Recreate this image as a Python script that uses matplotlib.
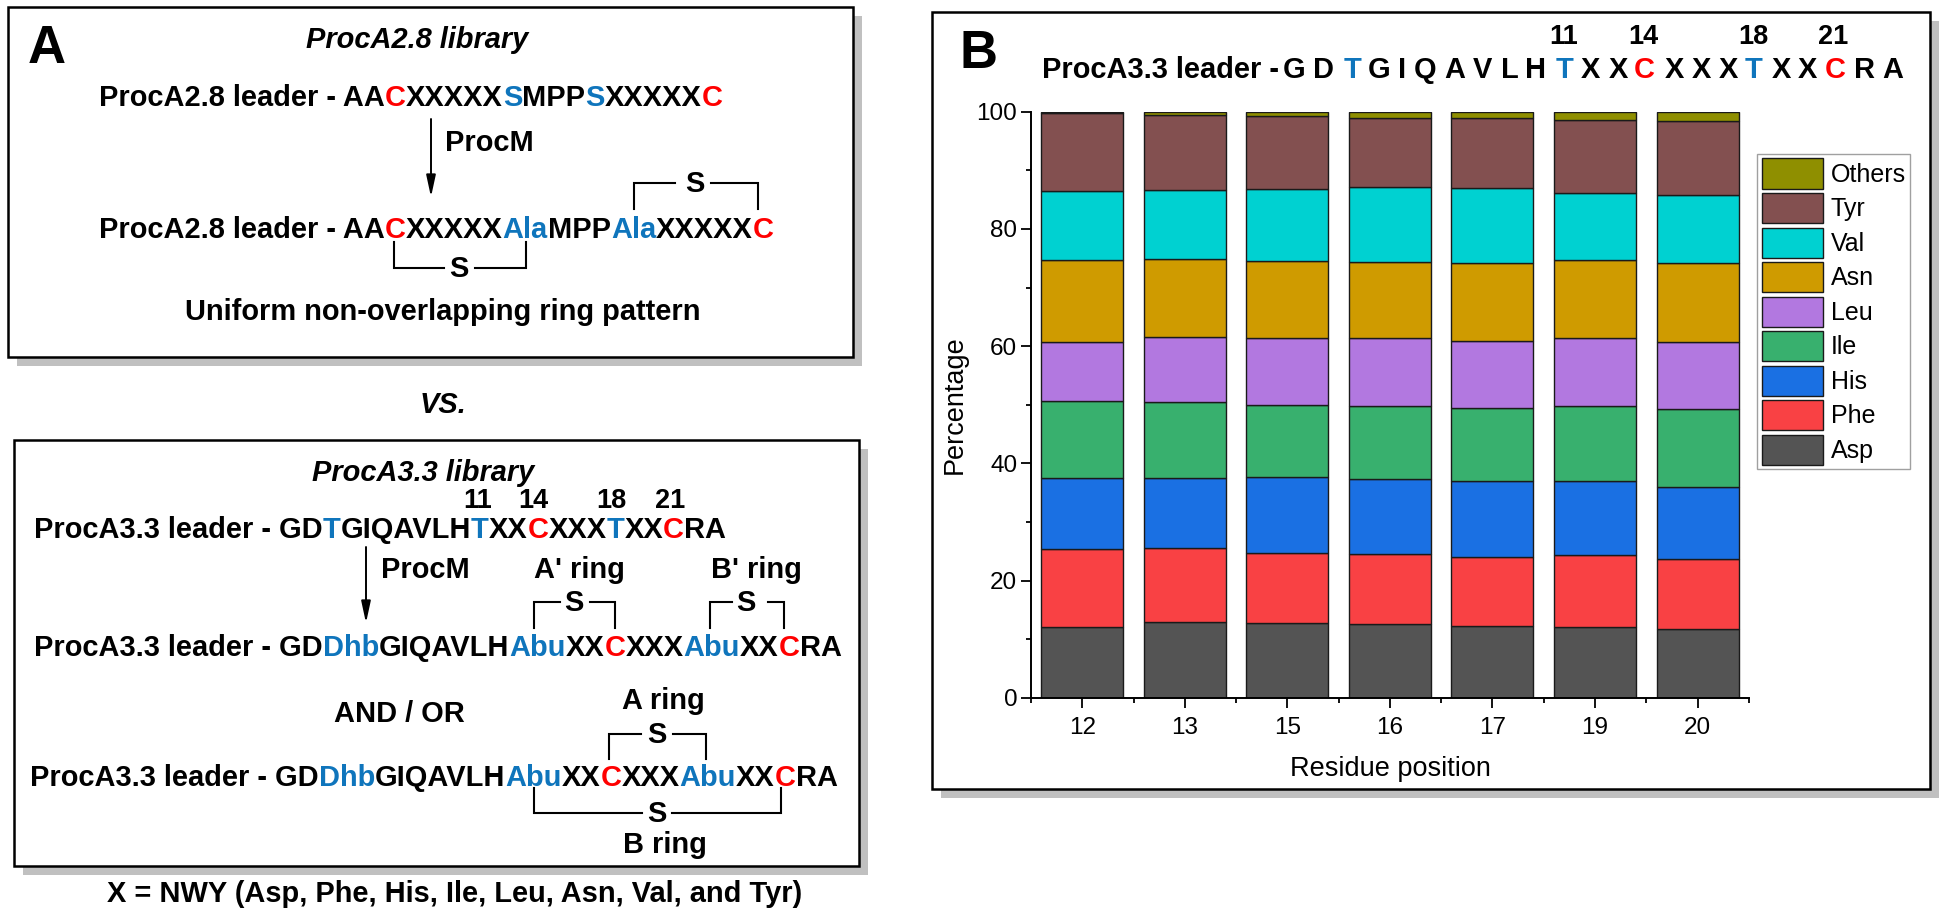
import matplotlib
matplotlib.use("Agg")
import numpy as np
import matplotlib.pyplot as plt
from matplotlib.patches import Rectangle
from matplotlib.ticker import MultipleLocator

plt.rcParams['font.family'] = ['Liberation Sans', 'DejaVu Sans']

# chart data, bottom to top of the stack
positions = ['12', '13', '15', '16', '17', '19', '20']
residues = ['Asp', 'Phe', 'His', 'Ile', 'Leu', 'Asn', 'Val', 'Tyr', 'Others']
asp = [12.1, 12.9, 12.8, 12.5, 12.3, 12.1, 11.8]
phe = [13.3, 12.6, 11.9, 12.0, 11.7, 12.3, 11.9]
his = [12.1, 12.0, 13.0, 12.8, 12.9, 12.5, 12.3]
ile = [13.2, 12.9, 12.3, 12.4, 12.5, 12.8, 13.3]
leu = [10.0, 11.1, 11.3, 11.6, 11.5, 11.7, 11.4]
asn = [14.0, 13.4, 13.3, 13.1, 13.2, 13.3, 13.4]
val = [11.8, 11.8, 12.2, 12.8, 12.8, 11.5, 11.7]
tyr = [13.3, 12.8, 12.4, 11.8, 12.0, 12.3, 12.6]
others = [0.2, 0.5, 0.8, 1.0, 1.1, 1.5, 1.6]
series = [asp, phe, his, ile, leu, asn, val, tyr, others]
colors = ['#545454', '#F94144', '#1A70E3', '#38B06E', '#B278E0',
          '#CF9B00', '#00D1D1', '#835050', '#8F8F00']

RED = '#FF0000'
BLUE = '#0F75BC'
BLACK = '#000000'
FS = 20.85

# sequence strings, split where the colour changes
a28_top = [('ProcA2.8 leader - AA', BLACK), ('C', RED), ('XXXXX', BLACK), ('S', BLUE),
           ('MPP', BLACK), ('S', BLUE), ('XXXXX', BLACK), ('C', RED)]
a28_bot = [('ProcA2.8 leader - AA', BLACK), ('C', RED), ('XXXXX', BLACK), ('Ala', BLUE),
           ('MPP', BLACK), ('Ala', BLUE), ('XXXXX', BLACK), ('C', RED)]
a33_top = [('ProcA3.3 leader - GD', BLACK), ('T', BLUE), ('GIQAVLH', BLACK), ('T', BLUE),
           ('XX', BLACK), ('C', RED), ('XXX', BLACK), ('T', BLUE), ('XX', BLACK),
           ('C', RED), ('RA', BLACK)]
a33_mid = [('ProcA3.3 leader - GD', BLACK), ('Dhb', BLUE), ('GIQAVLH', BLACK), ('Abu', BLUE),
           ('XX', BLACK), ('C', RED), ('XXX', BLACK), ('Abu', BLUE), ('XX', BLACK),
           ('C', RED), ('RA', BLACK)]
header_letters = list('GDTGIQAVLHTXXCXXXTXXCRA')
header_colors = {'T': BLUE, 'C': RED}
header_x = [1294.5, 1324, 1353, 1379.5, 1402, 1425, 1455, 1482, 1510, 1536, 1565, 1590.6,
            1618, 1644, 1674, 1701, 1728.5, 1754, 1781, 1807.6, 1835, 1864.5, 1892.5]

fig = plt.figure(figsize=(19.45, 9.15), dpi=100, facecolor='white')

# whole-figure layer in pixel coordinates for the schematic
bg = fig.add_axes([0, 0, 1, 1], zorder=0)
bg.set_xlim(0, 1945)
bg.set_ylim(915, 0)
bg.axis('off')
renderer = fig.canvas.get_renderer()


def panel(x0, y0, x1, y1, dx=9, dy=9):
    bg.add_patch(Rectangle((x0 + dx, y0 + dy), x1 - x0, y1 - y0, fc='#C0C0C0', ec='none'))
    bg.add_patch(Rectangle((x0, y0), x1 - x0, y1 - y0, fc='white', ec='black', lw=1.8))


def label(x, y, s, ha='left', size=FS, style='normal', weight='bold', va='baseline', color='black'):
    return bg.text(x, y, s, ha=ha, va=va, fontsize=size, style=style, weight=weight, color=color)


def colored(x, y, parts, size=FS):
    for s, c in parts:
        t = label(x, y, s, size=size, color=c)
        x += t.get_window_extent(renderer).width


def bracket(x0, x1, y_end, y_bar, xs, gap0, gap1):
    bg.plot([x0, x0, gap0], [y_end, y_bar, y_bar], color='black', lw=1.5, solid_joinstyle='miter')
    bg.plot([gap1, x1, x1], [y_bar, y_bar, y_end], color='black', lw=1.5, solid_joinstyle='miter')
    label(xs, y_bar + 1, 'S', ha='center', va='center')


def arrow(x, y0, y1):
    bg.annotate('', xy=(x, y1), xytext=(x, y0),
                arrowprops=dict(arrowstyle='-|>,head_width=0.28,head_length=1.3', color='black',
                                lw=1.4, shrinkA=0, shrinkB=0))


panel(8, 7, 853, 357)
panel(14, 440, 859, 866)
panel(932, 12, 1930, 789)

# panel A, top box
label(28, 63, 'A', size=38)
label(417, 48, 'ProcA2.8 library', ha='center', style='italic')
colored(99, 106, a28_top)
arrow(431, 119, 197)
label(445, 151, 'ProcM')
colored(99, 238, a28_bot)
bracket(634, 758, 209, 183, 695, 675, 711)
bracket(394, 526, 242, 268, 459, 444, 475)
label(443, 320, 'Uniform non-overlapping ring pattern', ha='center')
label(443, 413, 'VS.', ha='center', style='italic')

# panel A, lower box
label(423, 481, 'ProcA3.3 library', ha='center', style='italic')
for x, s in zip([478, 533, 611, 670], ['11', '14', '18', '21']):
    label(x, 508, s, ha='center', size=19.5)
colored(34, 538, a33_top)
arrow(366, 547, 623)
label(381, 578, 'ProcM')
label(534, 578, "A' ring")
label(711, 578, "B' ring")
colored(34, 656, a33_mid)
bracket(534, 615, 628, 602, 574, 560, 590)
bracket(710, 784, 628, 602, 746, 732, 768)
label(399, 722, 'AND / OR', ha='center')
label(622, 709, 'A ring')
bracket(609, 706, 759, 734, 657, 641, 673)
colored(30, 786, a33_mid)
bracket(534, 781, 788, 813, 657, 642, 672)
label(623, 853, 'B ring')
label(455, 902, 'X = NWY (Asp, Phe, His, Ile, Leu, Asn, Val, and Tyr)', ha='center')

# panel B header
label(960, 68, 'B', size=38)
label(1042, 78, 'ProcA3.3 leader -')
for x, s in zip(header_x, header_letters):
    label(x, 78, s, ha='center', color=header_colors.get(s, BLACK))
for x, s in zip([1564, 1643.5, 1753, 1833], ['11', '14', '18', '21']):
    label(x, 44, s, ha='center', size=19.5)

# stacked bars
ax = fig.add_axes([1031.1 / 1945, 1 - 697.7 / 915, (1748.8 - 1031.1) / 1945, 586 / 915], zorder=1)
ax.patch.set_alpha(0)
x = np.arange(len(positions))
bottom = np.zeros(len(positions))
for name, values, c in zip(residues, series, colors):
    ax.bar(x, values, width=0.8, bottom=bottom, color=c, edgecolor='#1a1a1a', linewidth=1.0, label=name)
    bottom += np.array(values)

ax.set_xlim(-0.5, 6.5)
ax.set_ylim(0, 100)
ax.set_xticks(x)
ax.set_xticklabels(positions)
ax.xaxis.set_minor_locator(MultipleLocator(1, offset=0.5))
ax.yaxis.set_major_locator(MultipleLocator(20))
ax.yaxis.set_minor_locator(MultipleLocator(10))
ax.tick_params(axis='both', which='major', length=7, width=1.3, labelsize=17.5, pad=7)
ax.tick_params(axis='both', which='minor', length=3.5, width=1.3)
ax.tick_params(axis='y', which='major', pad=3)
for side in ['top', 'right']:
    ax.spines[side].set_visible(False)
for side in ['left', 'bottom']:
    ax.spines[side].set_linewidth(1.4)
ax.set_xlabel('Residue position', fontsize=19.5, labelpad=12)
ax.set_ylabel('Percentage', fontsize=19.5, labelpad=6)

handles, labels = ax.get_legend_handles_labels()
ax.legend(handles[::-1], labels[::-1], loc='upper left',
          bbox_to_anchor=(1757 / 1945, 1 - 154 / 915), bbox_transform=fig.transFigure,
          fontsize=18, frameon=True, fancybox=False, edgecolor='#A0A0A0', framealpha=1,
          handlelength=2.44, handleheight=1.47, labelspacing=0.18, handletextpad=0.33,
          borderpad=0.18, borderaxespad=0)

fig.savefig('out.png', dpi=100)
